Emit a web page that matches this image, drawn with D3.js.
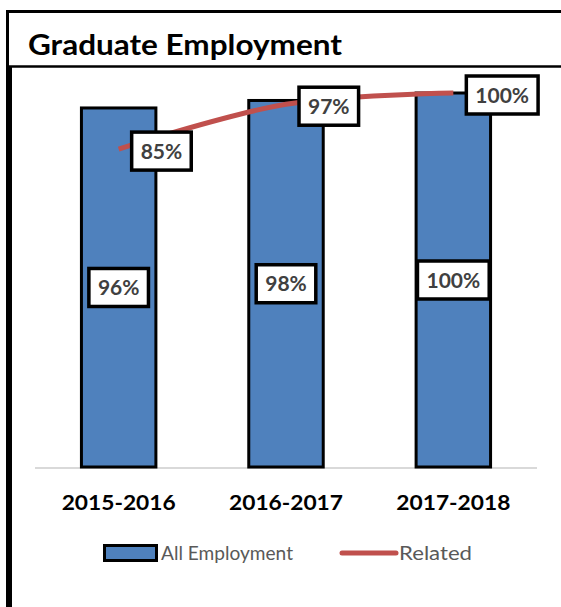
<!DOCTYPE html>
<html>
<head>
<meta charset="utf-8">
<script src="https://cdn.jsdelivr.net/npm/d3@7"></script>
<style>
    html, body { margin: 0; background: #fff; overflow: hidden; }
    svg { display: block; }
    text { font-family: Lato, "Open Sans", sans-serif; }
</style>
</head>
<body>
<svg id="chart" width="561" height="607"></svg>
<script>

// Data /////////////////////////////////////////

const years = ["2015-2016", "2016-2017", "2017-2018"];
const allEmployment = [0.96, 0.98, 1.00];
const related = [0.85, 0.97, 1.00];
const seriesNames = ["All Employment", "Related"];

const colors = { bar: "#4f81bd", line: "#c0504d", label: "#404040", legend: "#595959", grid: "#d9d9d9" };

// Frame ////////////////////////////////////////

const svg = d3.select("#chart");

const frame = svg.append("g")
    .attr("stroke", "#000")
    .attr("fill", "none");

frame.append("path")
    .attr("d", "M7.5,607V11.5H561")
    .attr("stroke-width", 3);

frame.append("line")
    .attr("x1", 7).attr("x2", 561)
    .attr("y1", 66.5).attr("y2", 66.5)
    .attr("stroke-width", 2.5);

frame.append("line")
    .attr("x1", 10.5).attr("x2", 10.5)
    .attr("y1", 66).attr("y2", 607)
    .attr("stroke-width", 3);

svg.append("text")
    .attr("x", 28)
    .attr("y", 55)
    .attr("font-size", 29)
    .attr("font-weight", 700)
    .attr("fill", "#000")
    .attr("textLength", 314)
    .attr("lengthAdjust", "spacingAndGlyphs")
    .text("Graduate Employment");

// Scales ///////////////////////////////////////

const x = d3.scaleBand()
    .domain(years)
    .range([35, 537])
    .padding(0);

const y = d3.scaleLinear()
    .domain([0, 1])
    .range([467, 93]);

const barW = x.bandwidth() * 0.445;
const cx = d => x(d) + x.bandwidth() / 2;

// Baseline
svg.append("line")
    .attr("x1", x.range()[0]).attr("x2", x.range()[1])
    .attr("y1", y(0) + 1).attr("y2", y(0) + 1)
    .attr("stroke", colors.grid)
    .attr("stroke-width", 2);

// Bars /////////////////////////////////////////

const bars = years.map((d, i) => ({ year: d, v: allEmployment[i] }));

svg.append("g")
    .selectAll("rect")
    .data(bars)
    .join("rect")
    .attr("x", d => cx(d.year) - barW / 2)
    .attr("y", d => y(d.v))
    .attr("width", barW)
    .attr("height", d => y(0) - y(d.v))
    .attr("fill", colors.bar)
    .attr("stroke", "#000")
    .attr("stroke-width", 3);

// Line /////////////////////////////////////////

const pts = years.map((d, i) => ({ year: d, v: related[i] }));

const line = d3.line()
    .x(d => cx(d.year))
    .y(d => y(d.v))
    .curve(d3.curveCatmullRom.alpha(0.5));

svg.append("path")
    .datum(pts)
    .attr("d", line)
    .attr("fill", "none")
    .attr("stroke", colors.line)
    .attr("stroke-width", 5);

// Data labels //////////////////////////////////

const fmt = d3.format(".0%");

function addLabel(g, px, py, txt, anchor) {
    const lab = g.append("g");
    const t = lab.append("text")
        .attr("font-size", 21)
        .attr("font-weight", 700)
        .attr("fill", colors.label)
        .attr("text-anchor", "middle")
        .attr("dy", "0.36em")
        .text(txt);
    const w = t.node().getComputedTextLength() + 18;
    const h = 38;
    const left = anchor === "right" ? px + 13 : px - w / 2;
    lab.insert("rect", "text")
        .attr("x", left)
        .attr("y", py - h / 2)
        .attr("width", w)
        .attr("height", h)
        .attr("fill", "#fff")
        .attr("stroke", "#000")
        .attr("stroke-width", 3.5);
    t.attr("x", left + w / 2).attr("y", py);
}

const labels = svg.append("g");
bars.forEach(d => addLabel(labels, cx(d.year), (y(d.v) + y(0)) / 2, fmt(d.v), "center"));
pts.forEach(d => addLabel(labels, cx(d.year), y(d.v) + 2, fmt(d.v), "right"));

// Axis labels //////////////////////////////////

svg.append("g")
    .selectAll("text")
    .data(years)
    .join("text")
    .attr("x", d => cx(d))
    .attr("y", 510)
    .attr("text-anchor", "middle")
    .attr("font-size", 21.5)
    .attr("font-weight", 700)
    .attr("fill", "#000")
    .attr("textLength", 114)
    .attr("lengthAdjust", "spacingAndGlyphs")
    .text(d => d);

// Legend ///////////////////////////////////////

const legend = svg.append("g");

legend.append("rect")
    .attr("x", 104.5).attr("y", 545.5)
    .attr("width", 52).attr("height", 15)
    .attr("fill", colors.bar)
    .attr("stroke", "#000")
    .attr("stroke-width", 3);

legend.append("text")
    .attr("x", 161).attr("y", 560)
    .attr("font-size", 19.5)
    .attr("fill", colors.legend)
    .attr("textLength", 132)
    .attr("lengthAdjust", "spacingAndGlyphs")
    .text(seriesNames[0]);

legend.append("line")
    .attr("x1", 342).attr("x2", 396)
    .attr("y1", 553).attr("y2", 553)
    .attr("stroke", colors.line)
    .attr("stroke-width", 5)
    .attr("stroke-linecap", "round");

legend.append("text")
    .attr("x", 399).attr("y", 560)
    .attr("font-size", 19.5)
    .attr("fill", colors.legend)
    .attr("textLength", 73)
    .attr("lengthAdjust", "spacingAndGlyphs")
    .text(seriesNames[1]);

</script>
</body>
</html>
